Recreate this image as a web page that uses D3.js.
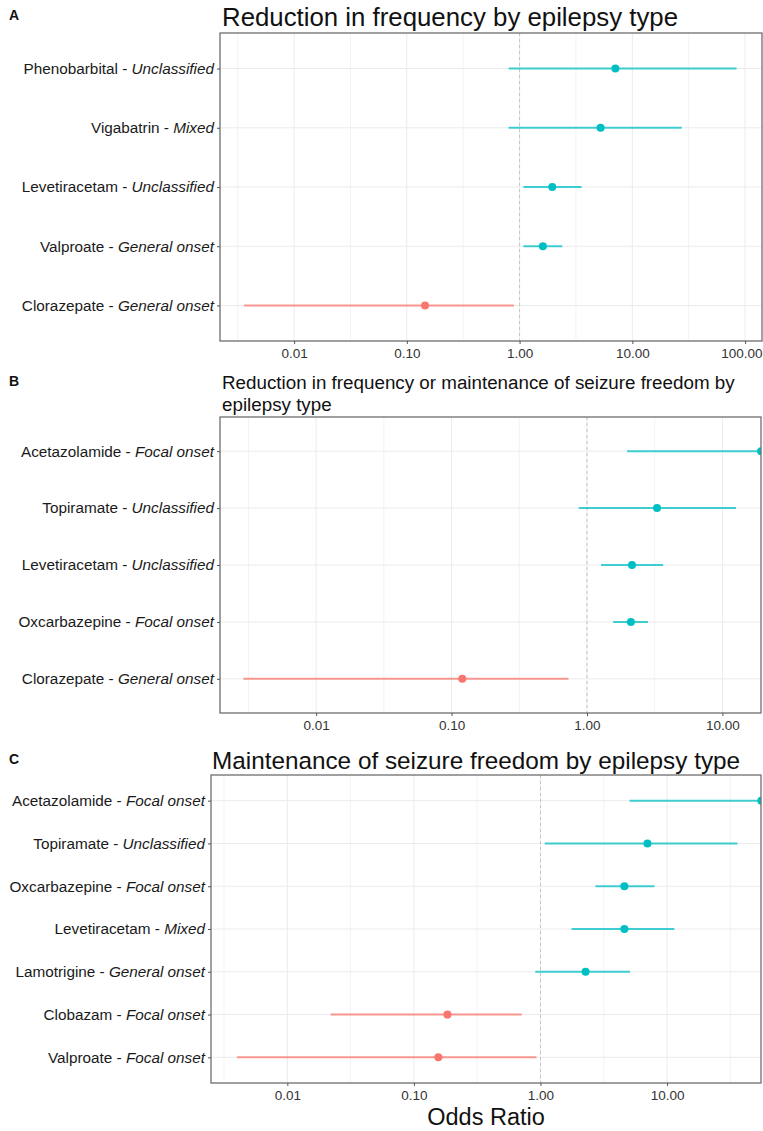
<html>
<meta http-equiv="Content-type" content="text/html;charset=UTF-8">
<head>
<title>Odds ratios by epilepsy type</title>
<script src="https://d3js.org/d3.v7.min.js"></script>
<style>
    body { margin: 0; background: #fff; font-family: 'Liberation Sans', Arial, sans-serif; }
    .grid line { stroke: #ebebeb; }
    .grid .minor { stroke: #f3f3f3; }
    .ylab { font-size: 15.3px; fill: #1a1a1a; }
    .xlab { font-size: 13.5px; fill: #333; }
    .title { fill: #111; }
    .letter { font-size: 14px; font-weight: bold; fill: #111; }
</style>
</head>
<body>
<div id="chart"></div>
<script>
// ***** DATA *****
// Panel A - reduction in frequency
var drugsA = ["Phenobarbital", "Vigabatrin", "Levetiracetam", "Valproate", "Clorazepate"];
var typesA = ["Unclassified", "Mixed", "Unclassified", "General onset", "General onset"];
var orA    = [7.07, 5.23, 1.95, 1.61, 0.145];
var lowA   = [0.80, 0.80, 1.08, 1.08, 0.0036];
var highA  = [84, 27.4, 3.55, 2.39, 0.89];
var ticksA = [0.01, 0.1, 1, 10, 100];

// Panel B - reduction in frequency or maintenance of seizure freedom
var drugsB = ["Acetazolamide", "Topiramate", "Levetiracetam", "Oxcarbazepine", "Clorazepate"];
var typesB = ["Focal onset", "Unclassified", "Unclassified", "Focal onset", "General onset"];
var orB    = [19.3, 3.29, 2.15, 2.11, 0.12];
var lowB   = [1.98, 0.87, 1.27, 1.56, 0.0029];
var highB  = [400, 12.6, 3.65, 2.82, 0.73];
var ticksB = [0.01, 0.1, 1, 10];

// Panel C - maintenance of seizure freedom
var drugsC = ["Acetazolamide", "Topiramate", "Oxcarbazepine", "Levetiracetam", "Lamotrigine", "Clobazam", "Valproate"];
var typesC = ["Focal onset", "Unclassified", "Focal onset", "Mixed", "General onset", "Focal onset", "Focal onset"];
var orC    = [55.6, 7.0, 4.6, 4.6, 2.27, 0.184, 0.156];
var lowC   = [5.05, 1.08, 2.72, 1.76, 0.91, 0.022, 0.004];
var highC  = [900, 36, 7.95, 11.4, 5.1, 0.71, 0.93];
var ticksC = [0.01, 0.1, 1, 10];

var teal = "#00BFC4";
var salmon = "#F8766D";

var svg = d3.select("#chart").append("svg")
    .attr("width", 763)
    .attr("height", 1131);

function drawPanel(p) {
    var x = d3.scaleLog().domain(p.domain).range([p.left, p.right]);
    var y = d3.scalePoint().domain(p.drugs.map(function(d, i) { return i; }))
        .range([p.top, p.bottom]).padding(0.6);

    var rows = p.drugs.map(function(d, i) {
        return { drug: d, type: p.types[i], or: p.or[i], low: p.low[i], high: p.high[i], i: i };
    });

    var g = svg.append("g");

    // grid
    var grid = g.append("g").attr("class", "grid");
    var lo = Math.floor(Math.log10(p.domain[0])), hi = Math.ceil(Math.log10(p.domain[1]));
    for (var k = lo; k <= hi; k++) {
        var m = Math.pow(10, k + 0.5);
        if (m > p.domain[0] && m < p.domain[1]) {
            grid.append("line").attr("class", "minor")
                .attr("x1", x(m)).attr("x2", x(m)).attr("y1", p.top).attr("y2", p.bottom);
        }
    }
    p.ticks.forEach(function(t) {
        grid.append("line").attr("x1", x(t)).attr("x2", x(t)).attr("y1", p.top).attr("y2", p.bottom);
    });
    rows.forEach(function(r) {
        grid.append("line").attr("x1", p.left).attr("x2", p.right).attr("y1", y(r.i)).attr("y2", y(r.i));
    });

    // reference line at OR = 1
    g.append("line")
        .attr("x1", x(1)).attr("x2", x(1)).attr("y1", p.top).attr("y2", p.bottom)
        .attr("stroke", "#c4c4c4").attr("stroke-width", 1).attr("stroke-dasharray", "3,3");

    var clipId = "clip" + p.id;
    svg.append("clipPath").attr("id", clipId).append("rect")
        .attr("x", p.left).attr("y", p.top)
        .attr("width", p.right - p.left).attr("height", p.bottom - p.top);

    var marks = g.append("g").attr("clip-path", "url(#" + clipId + ")");
    marks.selectAll("line.ci").data(rows).enter().append("line")
        .attr("class", "ci")
        .attr("x1", function(d) { return x(d.low); })
        .attr("x2", function(d) { return x(d.high); })
        .attr("y1", function(d) { return y(d.i); })
        .attr("y2", function(d) { return y(d.i); })
        .attr("stroke", function(d) { return d.or < 1 ? salmon : teal; })
        .attr("stroke-opacity", 0.75)
        .attr("stroke-width", 2);
    marks.selectAll("circle").data(rows).enter().append("circle")
        .attr("cx", function(d) { return x(d.or); })
        .attr("cy", function(d) { return y(d.i); })
        .attr("r", 4)
        .attr("fill", function(d) { return d.or < 1 ? salmon : teal; });

    // border
    g.append("rect")
        .attr("x", p.left).attr("y", p.top)
        .attr("width", p.right - p.left).attr("height", p.bottom - p.top)
        .attr("fill", "none").attr("stroke", "#6e6e6e").attr("stroke-width", 1.3);

    // x axis
    var xAxis = d3.axisBottom(x).tickValues(p.ticks).tickFormat(d3.format(".2f")).tickSize(3).tickPadding(4);
    var ax = g.append("g").attr("transform", "translate(0," + p.bottom + ")").call(xAxis);
    ax.select(".domain").remove();
    ax.selectAll(".tick line").attr("stroke", "#555");
    ax.selectAll(".tick text").attr("class", "xlab").attr("font-family", null).attr("font-size", null).attr("fill", null);
    // keep the last label inside the page, as the reference does
    ax.selectAll(".tick text").filter(function(d) { return x(d) > 735; })
        .attr("text-anchor", "end").attr("x", 762 - x(p.ticks[p.ticks.length - 1]));

    // y axis
    var yAxis = d3.axisLeft(y).tickSize(3).tickPadding(3).tickFormat("");
    var ay = g.append("g").attr("transform", "translate(" + p.left + ",0)").call(yAxis);
    ay.select(".domain").remove();
    ay.selectAll(".tick line").attr("stroke", "#555");
    rows.forEach(function(r) {
        var t = g.append("text").attr("class", "ylab")
            .attr("x", p.left - 6).attr("y", y(r.i)).attr("dy", "0.35em")
            .attr("text-anchor", "end");
        t.append("tspan").text(r.drug + " - ");
        t.append("tspan").attr("font-style", "italic").text(r.type);
    });

    // title
    p.title.forEach(function(line, i) {
        g.append("text").attr("class", "title")
            .attr("x", p.titleX).attr("y", p.titleY + i * p.titleLead)
            .attr("font-size", p.titleSize + "px").text(line);
    });
    g.append("text").attr("class", "letter").attr("x", 9).attr("y", p.letterY).text(p.letter);
    return x;
}

drawPanel({
    id: "A", letter: "A", letterY: 20,
    drugs: drugsA, types: typesA, or: orA, low: lowA, high: highA, ticks: ticksA,
    domain: [Math.pow(10, -2.657), Math.pow(10, 2.15)],
    left: 220, right: 762, top: 33, bottom: 341,
    title: ["Reduction in frequency by epilepsy type"], titleX: 222, titleY: 26, titleSize: 25.8, titleLead: 0
});

drawPanel({
    id: "B", letter: "B", letterY: 386,
    drugs: drugsB, types: typesB, or: orB, low: lowB, high: highB, ticks: ticksB,
    domain: [Math.pow(10, -2.71), Math.pow(10, 1.285)],
    left: 220, right: 761, top: 417, bottom: 713,
    title: ["Reduction in frequency or maintenance of seizure freedom by", "epilepsy type"],
    titleX: 222, titleY: 389, titleSize: 18.8, titleLead: 22
});

var xC = drawPanel({
    id: "C", letter: "C", letterY: 764,
    drugs: drugsC, types: typesC, or: orC, low: lowC, high: highC, ticks: ticksC,
    domain: [Math.pow(10, -2.603), Math.pow(10, 1.742)],
    left: 211, right: 761, top: 775, bottom: 1083,
    title: ["Maintenance of seizure freedom by epilepsy type"], titleX: 212, titleY: 769, titleSize: 24.3, titleLead: 0
});

svg.append("text")
    .attr("x", (211 + 761) / 2).attr("y", 1125)
    .attr("text-anchor", "middle").attr("font-size", "23.5px").attr("fill", "#111")
    .text("Odds Ratio");
</script>
</body>
</html>
